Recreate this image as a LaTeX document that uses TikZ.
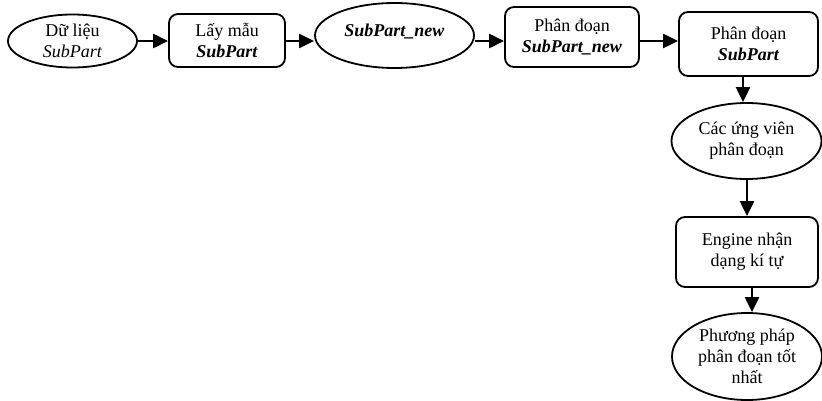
\documentclass[tikz,border=0pt]{standalone}
\usepackage{fontspec}
\setmainfont{Liberation Serif}
\usetikzlibrary{shapes.geometric,arrows.meta}
\begin{document}
\begin{tikzpicture}[x=1pt,y=-1pt,
  txt/.style={font=\fontsize{18}{21}\selectfont, align=center, inner sep=0pt},
  ell/.style={txt, ellipse, draw, line width=1.8pt},
  rbox/.style={txt, rectangle, rounded corners=9pt, draw, line width=1.8pt},
  arr/.style={line width=2.2pt, -{Triangle[length=15pt,width=14pt]}}]
\useasboundingbox (0,0) rectangle (822,401);
\node[ell, minimum width=129pt, minimum height=53pt] (e1) at (72.5,41) {Dữ liệu\\\textit{SubPart}};
\node[rbox, minimum width=116pt, minimum height=53pt] (b2) at (227,40.5) {Lấy mẫu\\\textbf{\textit{SubPart}}};
\node[ell, minimum width=159pt, minimum height=65pt,
  label={[txt, yshift=4pt]center:\textbf{\textit{SubPart\_new}}}] (e3) at (394.5,35.5) {};
\node[rbox, minimum width=134pt, minimum height=60pt] (b4) at (572,37) {Phân đoạn\\\textbf{\textit{SubPart\_new}}};
\node[rbox, minimum width=139pt, minimum height=64pt] (b5) at (748.5,44) {Phân đoạn\\\textbf{\textit{SubPart}}};
\node[ell, minimum width=150pt, minimum height=76pt] (e6) at (746.5,141) {Các ứng viên\\phân đoạn};
\node[rbox, minimum width=142pt, minimum height=70pt] (b7) at (747,252) {Engine nhận\\dạng kí tự};
\node[ell, minimum width=150pt, minimum height=87pt] (e8) at (747,356.5) {Phương pháp\\phân đoạn tốt\\nhất};
\coordinate (row) at (0,41);
\coordinate (c56) at (743,0);
\coordinate (c67) at (747,0);
\coordinate (c78) at (752,0);
\draw[arr] (e1.east |- row) -- (b2.west |- row);
\draw[arr] (b2.east |- row) -- (e3.west |- row);
\draw[arr] (e3.east |- row) -- (b4.west |- row);
\draw[arr] (b4.east |- row) -- (b5.west |- row);
\draw[arr] (b5.south -| c56) -- (e6.north -| c56);
\draw[arr] (e6.south -| c67) -- (b7.north -| c67);
\draw[arr] (b7.south -| c78) -- (e8.north -| c78);
\end{tikzpicture}
\end{document}
